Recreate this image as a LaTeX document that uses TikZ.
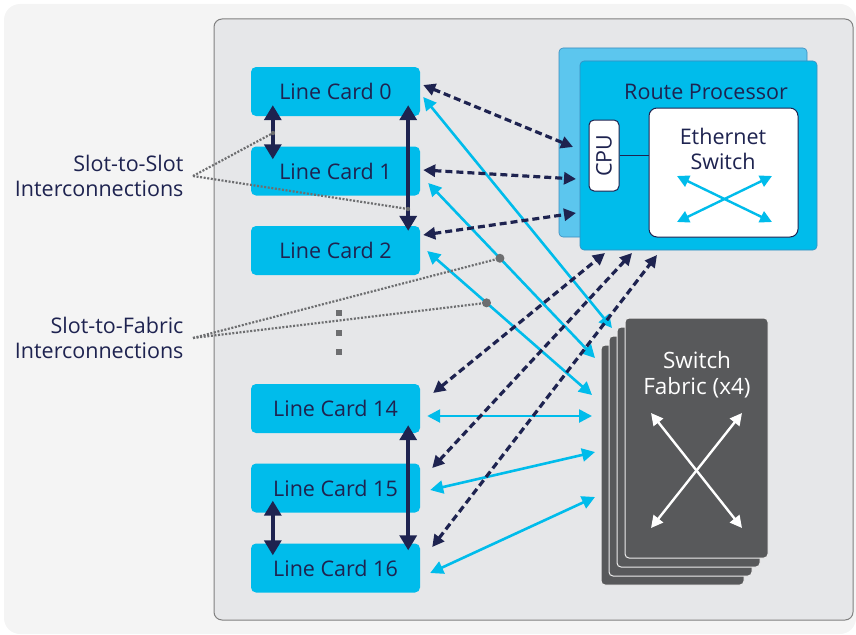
\documentclass[tikz,border=0pt]{standalone}
\usepackage{fontspec}
\setmainfont{Open Sans}
\usetikzlibrary{arrows.meta,calc}
\definecolor{lcblue}{HTML}{00BCEB}
\definecolor{rpback}{HTML}{5CC6EE}
\definecolor{rpline}{HTML}{3C8DBE}
\definecolor{navy}{HTML}{1E2350}
\definecolor{fabgray}{HTML}{58595B}
\definecolor{framegray}{HTML}{E6E7E9}
\definecolor{bggray}{HTML}{F4F4F4}
\definecolor{ptrgray}{HTML}{6D6E70}

\begin{document}
\begin{tikzpicture}
        [x=1pt, y=-1pt, font=\fontsize{21.5}{25}\selectfont,
        card/.style={rectangle, rounded corners=5pt, fill=lcblue, text=navy, minimum width=169pt, minimum height=49pt, inner sep=0pt},
        fabcard/.style={rectangle, rounded corners=4pt, fill=fabgray, draw=white!85!gray, line width=1pt, minimum width=143pt, minimum height=240pt},
        slot/.style={navy, line width=3.5pt, {Triangle[width=17pt,length=15pt]}-{Triangle[width=17pt,length=15pt]}},
        ctrl/.style={navy, line width=3.2pt, dash pattern=on 7pt off 4pt, {Triangle[width=12pt,length=12pt]}-{Triangle[width=12pt,length=12pt]}},
        data/.style={lcblue, line width=2.6pt, {Triangle[width=13pt,length=13pt]}-{Triangle[width=13pt,length=13pt]}},
        cross/.style={line width=2.4pt, {Triangle[width=12pt,length=12pt]}-{Triangle[width=12pt,length=12pt]}},
        pointer/.style={ptrgray, line width=2.2pt, dash pattern=on 2pt off 1.6pt}]

        \useasboundingbox (0,0) rectangle (856,634);
        \fill[bggray, rounded corners=16pt] (4,4) rectangle (856,634);
        \draw[fill=framegray, draw=gray, line width=1pt, rounded corners=8pt] (214,19) rectangle (853,620);

        % labels on the left
        \node[anchor=east, align=right, text=navy] (s2s) at (187,176) {Slot-to-Slot\\Interconnections};
        \node[anchor=east, align=right, text=navy] (s2f) at (187,338) {Slot-to-Fabric\\Interconnections};

        % route processor
        \node[rectangle, rounded corners=4pt, fill=rpback, draw=rpline, line width=0.6pt, minimum width=248pt, minimum height=189pt] (rpb) at (683,142.5) {};
        \node[rectangle, rounded corners=4pt, fill=lcblue, draw=rpline, line width=0.6pt, minimum width=237pt, minimum height=189pt] (rp) at (698.5,155.5) {};
        \node[text=navy] (rptitle) at (706,92) {Route Processor};
        \node[rectangle, rounded corners=5pt, fill=white, draw=navy, line width=1pt, minimum width=71pt, minimum height=30pt, inner sep=0pt, rotate=90, text=navy] (cpu) at (604,155.5) {CPU};
        \node[rectangle, rounded corners=8pt, fill=white, draw=navy, line width=1pt, minimum width=149pt, minimum height=129pt] (eth) at (723.5,172.5) {};
        \node[align=center, text=navy] (ethlbl) at (723,149) {Ethernet\\Switch};
        \draw[navy, line width=1pt] (cpu.south) -- (eth.west |- cpu.south);
        \coordinate (e1) at (677,176);
        \coordinate (e2) at (772,222);
        \coordinate (e3) at (677,222);
        \coordinate (e4) at (772,176);
        \draw[cross, lcblue] (e1) -- (e2);
        \draw[cross, lcblue] (e3) -- (e4);

        % switch fabric (x4)
        \foreach \i in {3,2,1,0}
            \node[fabcard] (fab\i) at ({696.5-8*\i},{438+9*\i}) {};
        \node[align=center, text=white, font=\fontsize{22.5}{26}\selectfont] (fablbl) at (697,375) {Switch\\Fabric (x4)};
        \coordinate (x1) at (651,413);
        \coordinate (x2) at (742,528);
        \coordinate (x3) at (651,528);
        \coordinate (x4) at (742,413);
        \draw[cross, white] (x1) -- (x2);
        \draw[cross, white] (x3) -- (x4);

        % line cards
        \node[card] (lc0) at (335.5,91.5) {Line Card 0};
        \node[card] (lc1) at (335.5,171) {Line Card 1};
        \node[card] (lc2) at (335.5,250.5) {Line Card 2};
        \node[card] (lc14) at (335.5,408.5) {Line Card 14};
        \node[card] (lc15) at (335.5,488) {Line Card 15};
        \node[card] (lc16) at (335.5,568) {Line Card 16};
        \foreach \y in {313,333,352}
            \fill[ptrgray] (336,{\y-3}) rectangle +(6,6);

        % ends on the route processor and on the fabric
        \coordinate (rp0) at (573,147);
        \coordinate (rp1) at (576,179);
        \coordinate (rp2) at (576,213);
        \coordinate (rp14) at (605,253);
        \coordinate (rp15) at (632,253);
        \coordinate (rp16) at (657,255);
        \coordinate (f0) at (612,328);
        \coordinate (f1) at (595,358);
        \coordinate (f2) at (592,395);
        \coordinate (f14) at (592,416);
        \coordinate (f15) at (595,452);
        \coordinate (f16) at (595,497);

        % slot-to-fabric links (cyan)
        \draw[data] ([shift={(3,5.5)}]lc0.east) -- (f0);
        \draw[data] ([shift={(8,12)}]lc1.east) -- (f1);
        \draw[data] ([shift={(7,0.5)}]lc2.east) -- (f2);
        \draw[data] ([shift={(7,7.5)}]lc14.east) -- (f14);
        \draw[data] ([shift={(10,2)}]lc15.east) -- (f15);
        \draw[data] ([shift={(10,5)}]lc16.east) -- (f16);

        % links to the route processor (dashed)
        \draw[ctrl] ([shift={(3,-6.5)}]lc0.east) -- (rp0);
        \draw[ctrl] ([shift={(3,-1)}]lc1.east) -- (rp1);
        \draw[ctrl] ([shift={(3,-15.5)}]lc2.east) -- (rp2);
        \draw[ctrl] ([shift={(13,-15.5)}]lc14.east) -- (rp14);
        \draw[ctrl] ([shift={(12,-20)}]lc15.east) -- (rp15);
        \draw[ctrl] ([shift={(12,-21)}]lc16.east) -- (rp16);

        % slot-to-slot links
        \draw[slot] ([shift={(22,-11)}]lc0.south west) -- ([shift={(22,13)}]lc1.north west);
        \draw[slot] ([shift={(-12,-11)}]lc0.south east) -- ([shift={(-12,5)}]lc2.north east);
        \draw[slot] ([shift={(-12,-8)}]lc14.south east) -- ([shift={(-12,7)}]lc16.north east);
        \draw[slot] ([shift={(22,-12)}]lc15.south west) -- ([shift={(22,12)}]lc16.north west);

        % pointers from the labels
        \coordinate (sA) at (273,133);
        \coordinate (sB) at (408,209);
        \coordinate (fA) at ($([shift={(8,12)}]lc1.east)!0.43!(f1)$);
        \coordinate (fB) at ($([shift={(7,0.5)}]lc2.east)!0.36!(f2)$);
        \draw[pointer] ([xshift=6pt]s2s.east) -- (sA);
        \draw[pointer] ([xshift=6pt]s2s.east) -- (sB);
        \draw[pointer] ([xshift=6pt]s2f.east) -- (fA);
        \draw[pointer] ([xshift=6pt]s2f.east) -- (fB);
        \fill[ptrgray] (sA) circle (2.2pt);
        \fill[ptrgray] (sB) circle (2.2pt);
        \fill[ptrgray] (fA) circle (4.5pt);
        \fill[ptrgray] (fB) circle (4.5pt);

\end{tikzpicture}
\end{document}
